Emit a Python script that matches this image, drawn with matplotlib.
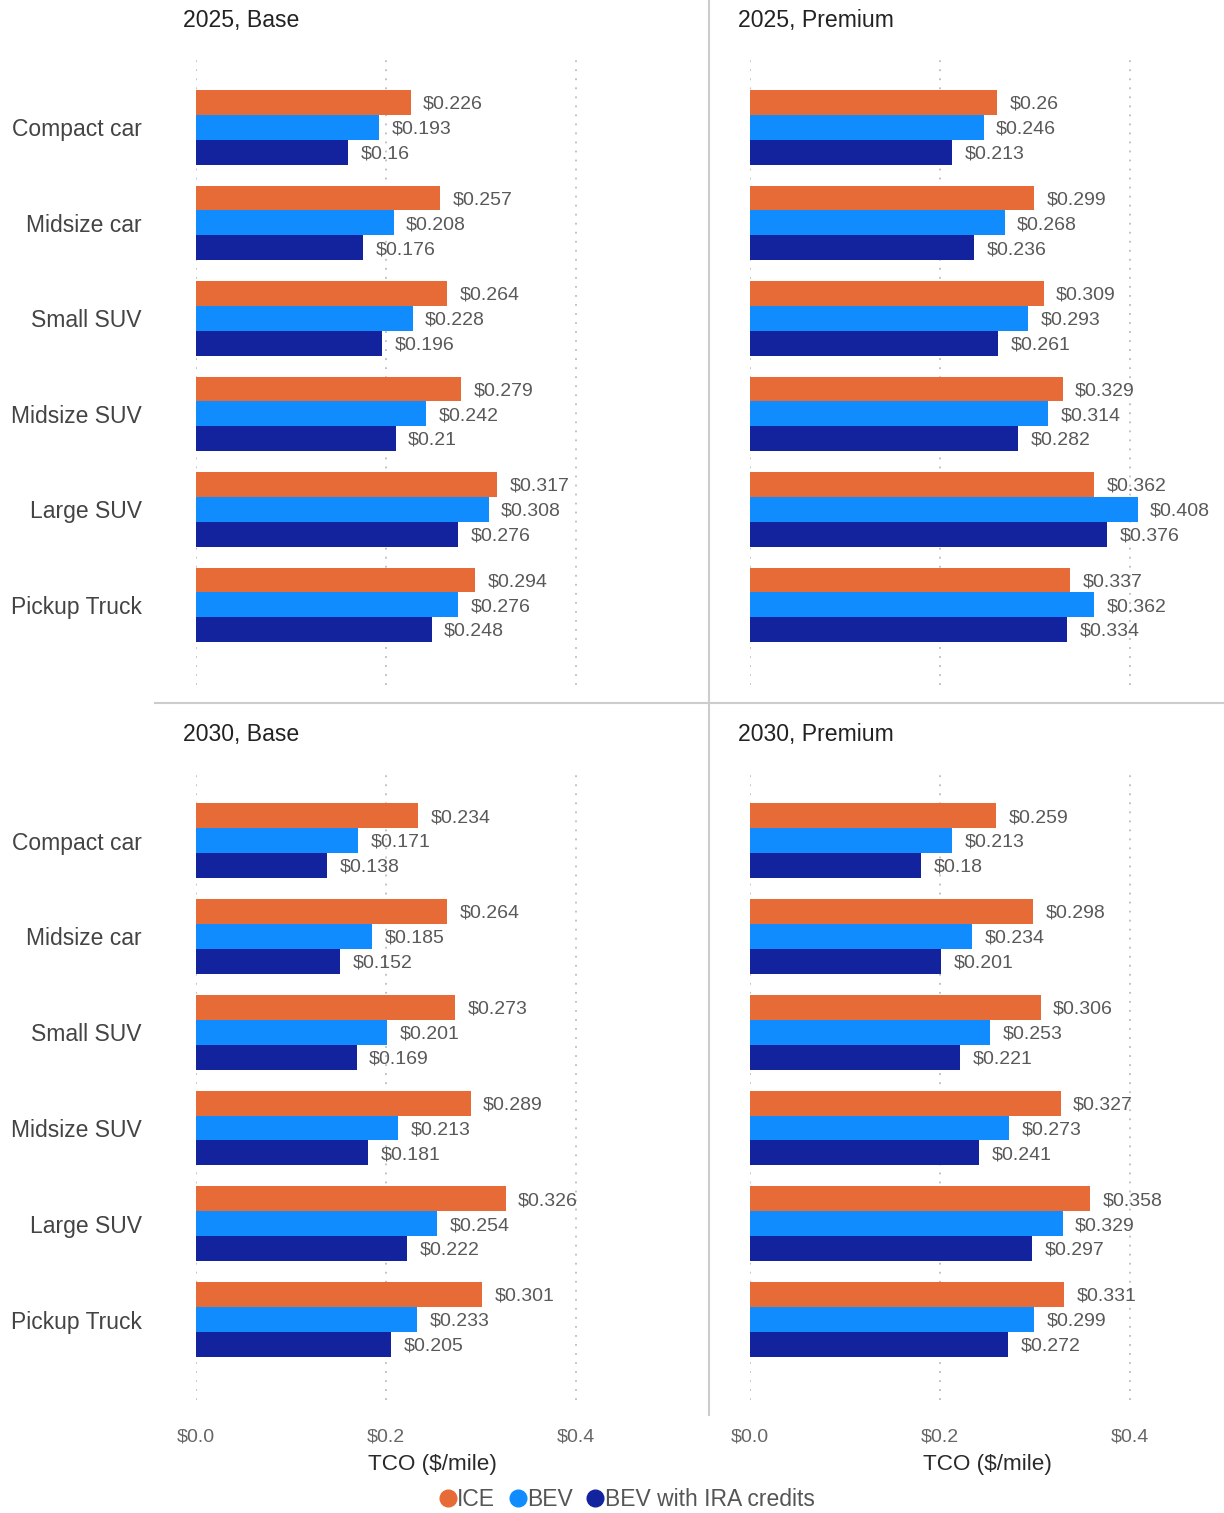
import matplotlib
matplotlib.use("Agg")
import matplotlib.pyplot as plt
import numpy as np
from matplotlib.lines import Line2D

plt.rcParams["font.family"] = ["Liberation Sans", "DejaVu Sans"]

categories = ["Compact car", "Midsize car", "Small SUV", "Midsize SUV", "Large SUV", "Pickup Truck"]
series_names = ["ICE", "BEV", "BEV with IRA credits"]
colors = ["#E76B36", "#108CFF", "#13239E"]

ice_2025_base = [0.226, 0.257, 0.264, 0.279, 0.317, 0.294]
bev_2025_base = [0.193, 0.208, 0.228, 0.242, 0.308, 0.276]
ira_2025_base = [0.16, 0.176, 0.196, 0.21, 0.276, 0.248]

ice_2025_prem = [0.26, 0.299, 0.309, 0.329, 0.362, 0.337]
bev_2025_prem = [0.246, 0.268, 0.293, 0.314, 0.408, 0.362]
ira_2025_prem = [0.213, 0.236, 0.261, 0.282, 0.376, 0.334]

ice_2030_base = [0.234, 0.264, 0.273, 0.289, 0.326, 0.301]
bev_2030_base = [0.171, 0.185, 0.201, 0.213, 0.254, 0.233]
ira_2030_base = [0.138, 0.152, 0.169, 0.181, 0.222, 0.205]

ice_2030_prem = [0.259, 0.298, 0.306, 0.327, 0.358, 0.331]
bev_2030_prem = [0.213, 0.234, 0.253, 0.273, 0.329, 0.299]
ira_2030_prem = [0.18, 0.201, 0.221, 0.241, 0.297, 0.272]

x_ticks = [0.0, 0.2, 0.4]
x_tick_labels = ["$0.0", "$0.2", "$0.4"]

panels = [
    ("2025, Base", [ice_2025_base, bev_2025_base, ira_2025_base]),
    ("2025, Premium", [ice_2025_prem, bev_2025_prem, ira_2025_prem]),
    ("2030, Base", [ice_2030_base, bev_2030_base, ira_2030_base]),
    ("2030, Premium", [ice_2030_prem, bev_2030_prem, ira_2030_prem]),
]

W, H = 1224, 1513
fig = plt.figure(figsize=(W / 100, H / 100), dpi=100)

# pixel boxes: (left, top, right, bottom)
boxes = [(196, 58, 668, 685), (750, 58, 1224, 685),
         (196, 771, 668, 1400), (750, 771, 1224, 1400)]
title_pos = [(183, 20), (738, 20), (183, 734), (738, 734)]
px_per_unit = 950.0

bar_h = 0.26
y = np.arange(len(categories))

for i, ((title, series), box) in enumerate(zip(panels, boxes)):
    l, t, r, b = box
    ax = fig.add_axes([l / W, 1 - b / H, (r - l) / W, (b - t) / H])
    for k, (vals, col) in enumerate(zip(series, colors)):
        pos = y + (k - 1) * bar_h
        ax.barh(pos, vals, height=bar_h, color=col, zorder=2)
        for p, v in zip(pos, vals):
            ax.annotate(f"${v:g}", (v, p), xytext=(9, -1.3), textcoords="offset points",
                        va="center", ha="left", fontsize=14, color="#595959", zorder=3)
    ax.set_xlim(0, (r - l) / px_per_unit)
    ax.set_ylim(5.84, -0.727)
    for xt in x_ticks:
        ax.axvline(xt, color="#bdbdbd", lw=1.3, ls=(0, (1, 4)), zorder=1)
    for s in ax.spines.values():
        s.set_visible(False)
    ax.set_yticks(y)
    if i % 2 == 0:
        ax.set_yticklabels(categories, fontsize=16.5, color="#444444")
    else:
        ax.set_yticklabels([])
    ax.tick_params(axis="y", length=0, pad=39)
    ax.set_xticks(x_ticks)
    if i >= 2:
        ax.set_xticklabels(x_tick_labels, fontsize=14, color="#666666")
        ax.tick_params(axis="x", length=0, pad=20.5)
        ax.set_xlabel("TCO ($/mile)", fontsize=16.2, color="#2a2a2a", labelpad=6)
    else:
        ax.set_xticklabels([])
        ax.tick_params(axis="x", length=0)
    tx, ty = title_pos[i]
    fig.text(tx / W, 1 - ty / H, title, fontsize=16.6, color="#222222", ha="left", va="center")

# separators
fig.add_artist(Line2D([709 / W, 709 / W], [1, 1 - 1415 / H], color="#cccccc", lw=1.5))
fig.add_artist(Line2D([155 / W, 1], [1 - 703 / H, 1 - 703 / H], color="#cccccc", lw=1.5))

handles = [Line2D([], [], marker="o", ls="none", color=c, markersize=12) for c in colors]
fig.legend(handles, series_names, loc="center", bbox_to_anchor=(627 / W, 1 - 1500 / H), ncol=3,
           frameon=False, fontsize=16.5, handlelength=0.7, handletextpad=0.05, columnspacing=0.65,
           labelcolor="#555555")

fig.savefig("out.png", dpi=100)
